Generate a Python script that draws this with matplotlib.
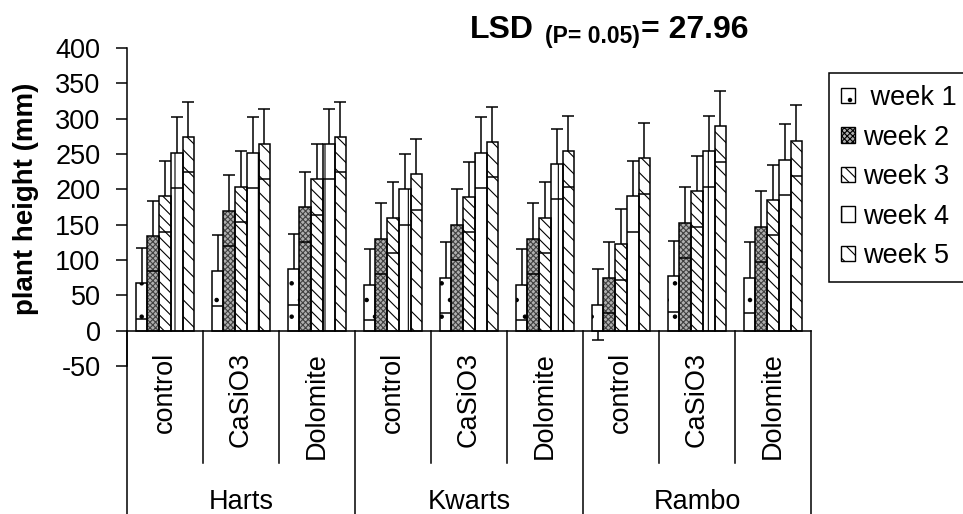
import numpy as np
import matplotlib
matplotlib.use("Agg")
import matplotlib.pyplot as plt
from matplotlib.patches import Patch

plt.rcParams["font.family"] = ["Liberation Sans", "DejaVu Sans"]
plt.rcParams["axes.unicode_minus"] = False
plt.rcParams["hatch.linewidth"] = 0.8

cultivars = ["Harts", "Kwarts", "Rambo"]
treatments = ["control", "CaSiO3", "Dolomite"]
weeks = [" week 1", "week 2", "week 3", "week 4", "week 5"]

# order: Harts (control, CaSiO3, Dolomite), Kwarts (...), Rambo (...)
week1 = [67, 85, 87, 65, 75, 65, 37, 77, 75]
week2 = [134, 170, 175, 130, 150, 130, 75, 153, 147]
week3 = [190, 204, 214, 160, 189, 160, 122, 197, 185]
week4 = [252, 252, 264, 200, 252, 236, 190, 254, 242]
week5 = [274, 264, 274, 221, 267, 254, 244, 289, 269]
error = 50

series = [week1, week2, week3, week4, week5]
faces = ["white", "#b0b0b0", "white", "white", "white"]
hatches = [".", "xxxxxx", "\\\\\\", "|", "\\\\"]
hcolors = ["black", "#404040", "black", "black", "black"]

fig = plt.figure(figsize=(9.63, 5.14), dpi=100)
ax = fig.add_axes([127 / 963, 1 - 366 / 514, (811 - 127) / 963, (366 - 48) / 514])

x = np.arange(len(treatments) * len(cultivars))
w = 0.154
lw = 1.1

for i, vals in enumerate(series):
    vals = np.array(vals, dtype=float)
    pos = x + (i - 2) * w
    ax.errorbar(pos, vals, yerr=error, fmt="none", ecolor="black",
                elinewidth=lw, capsize=4, capthick=lw, zorder=1)
    ax.bar(pos, vals, w, color=faces[i], edgecolor=hcolors[i], hatch=hatches[i],
           linewidth=0, zorder=2)
    ax.bar(pos, vals, w, fill=False, edgecolor="black", linewidth=lw, zorder=3)
    low = vals - error
    inside = low > 0
    ax.hlines(low[inside], pos[inside] - w / 2, pos[inside] + w / 2,
              colors="black", linewidth=lw, zorder=3)

ax.set_xlim(-0.5, 8.5)
ax.set_ylim(-50, 400)
ax.set_yticks(range(-50, 401, 50))
ax.spines["top"].set_visible(False)
ax.spines["right"].set_visible(False)
ax.spines["bottom"].set_position(("data", 0))
ax.spines["left"].set_linewidth(lw)
ax.spines["bottom"].set_linewidth(lw)
ax.set_xticks([])
ax.tick_params(axis="y", direction="out", length=8, width=lw, pad=11, labelsize=19.5)

# category axis separators
for k in range(len(x) + 1):
    y_end = -300 if k % 3 == 0 else -187
    ax.plot([k - 0.5, k - 0.5], [0, y_end], color="black", lw=lw, clip_on=False)

for j in x:
    ax.text(j, -30, treatments[j % 3], rotation=90, ha="center", va="top",
            fontsize=19.5)
for g, name in enumerate(cultivars):
    ax.text(3 * g + 1, -242, name, ha="center", va="center", fontsize=19.5)

handles = [Patch(facecolor=faces[i], edgecolor="black", hatch=hatches[i], linewidth=1)
           for i in range(5)]
leg = fig.legend(handles, weeks, loc="upper left",
                 bbox_to_anchor=(829 / 963, 1 - 73 / 514), frameon=True,
                 fancybox=False, edgecolor="black", framealpha=1, fontsize=19.5,
                 handlelength=0.5, handleheight=0.5, handletextpad=0.3,
                 labelspacing=0.5, borderpad=0.45, borderaxespad=0)
leg.get_frame().set_linewidth(lw)

# title
fig.text(470 / 963, 1 - 38 / 514, "LSD", fontsize=23, fontweight="bold", va="baseline")
fig.text(545 / 963, 1 - 43 / 514, "(P= 0.05)", fontsize=16.5, fontweight="bold", va="baseline")
fig.text(641 / 963, 1 - 38 / 514, "= 27.96", fontsize=23, fontweight="bold", va="baseline")

fig.text(26 / 963, 1 - 198.5 / 514, "plant height (mm)", rotation=90, fontsize=20,
         fontweight="bold", ha="center", va="center")

fig.savefig("out.png", dpi=100)
